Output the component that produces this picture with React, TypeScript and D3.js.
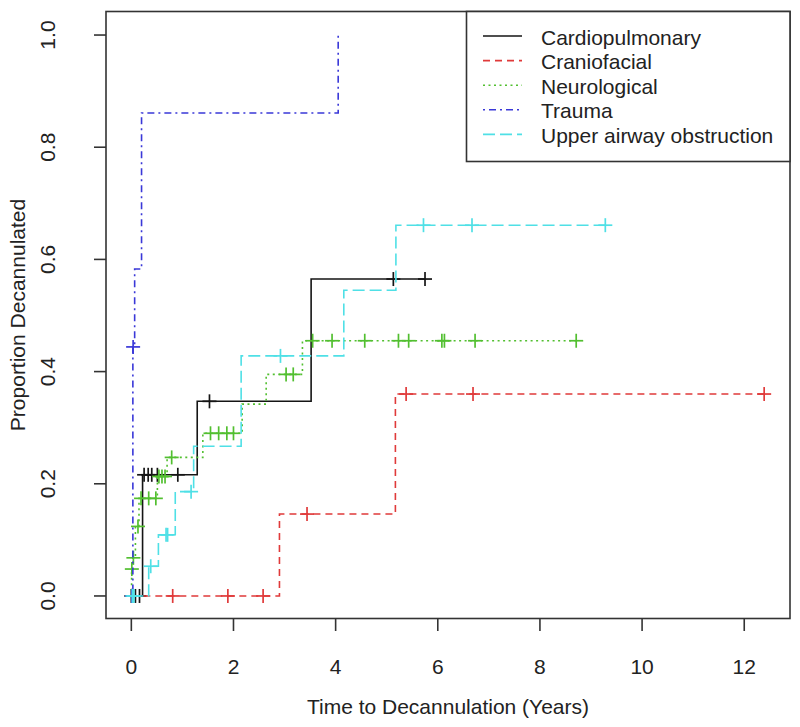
import React from "react";
import * as d3 from "d3";

// ---------- data ----------
const seriesNames = ["Cardiopulmonary", "Craniofacial", "Neurological", "Trauma", "Upper airway obstruction"];

const cardioEventTimes = [0.22, 1.29, 3.52];
const cardioEventValues = [0.216, 0.347, 0.565];
const cardioCensorTimes = [0.0, 0.08, 0.16, 0.25, 0.33, 0.4, 0.51, 0.91, 1.53, 5.13, 5.75];

const cranioEventTimes = [2.9, 5.17];
const cranioEventValues = [0.146, 0.36];
const cranioCensorTimes = [0.81, 1.89, 2.58, 3.44, 5.38, 6.69, 12.39];

const neuroEventTimes = [0.005, 0.03, 0.08, 0.15, 0.51, 0.7, 1.4, 2.17, 2.64, 3.35];
const neuroEventValues = [0.048, 0.068, 0.124, 0.174, 0.213, 0.247, 0.29, 0.342, 0.395, 0.455];
const neuroCensorTimes = [0.01, 0.04, 0.13, 0.19, 0.34, 0.48, 0.54, 0.6, 0.66, 0.79, 1.55, 1.71, 1.87, 2.0, 3.03, 3.17, 3.55, 3.93, 4.57, 5.23, 5.43, 6.08, 6.13, 6.73, 8.71];

const traumaEventTimes = [0.03, 0.065, 0.2, 4.05];
const traumaEventValues = [0.444, 0.583, 0.861, 1.0];
const traumaCensorTimes = [0.01, 0.035];

const airwayEventTimes = [0.34, 0.53, 0.86, 1.22, 2.15, 4.16, 5.18];
const airwayEventValues = [0.053, 0.109, 0.186, 0.267, 0.428, 0.545, 0.661];
const airwayCensorTimes = [0.02, 0.05, 0.38, 0.68, 0.71, 1.17, 2.92, 5.72, 6.67, 9.28];

const xTicks = [0, 2, 4, 6, 8, 10, 12];
const yTicks = [0, 0.2, 0.4, 0.6, 0.8, 1.0];
const yTickLabels = ["0.0", "0.2", "0.4", "0.6", "0.8", "1.0"];

const colors = ["#151515", "#e03a3a", "#52bf30", "#3a38d8", "#4fe0e6"];
const dashes = ["none", "7,5", "2,3.5", "2,4,7,4", "12,5"];

const series = [
  { e: cardioEventTimes, v: cardioEventValues, c: cardioCensorTimes },
  { e: cranioEventTimes, v: cranioEventValues, c: cranioCensorTimes },
  { e: neuroEventTimes, v: neuroEventValues, c: neuroCensorTimes },
  { e: traumaEventTimes, v: traumaEventValues, c: traumaCensorTimes },
  { e: airwayEventTimes, v: airwayEventValues, c: airwayCensorTimes },
];

const FONT = "'Liberation Sans', Arial, sans-serif";

export default function App() {
  const W = 800, H = 727;
  const x = d3.scaleLinear().domain([-0.496, 12.896]).range([106, 790]);
  const y = d3.scaleLinear().domain([-0.04, 1.04]).range([618.4, 12.6]);

  const valueAt = (s: { e: number[]; v: number[] }, t: number) => {
    let val = 0;
    s.e.forEach((et, i) => {
      if (et <= t) val = s.v[i];
    });
    return val;
  };

  const line = d3.line<[number, number]>().x((d) => x(d[0])).y((d) => y(d[1])).curve(d3.curveStepAfter);

  const paths = series.map((s) => {
    const end = Math.max(...s.e, ...s.c);
    const pts: [number, number][] = [[0, 0]];
    s.e.forEach((t, i) => pts.push([t, s.v[i]]));
    pts.push([end, s.v[s.v.length - 1]]);
    return line(pts) as string;
  });

  const legendY0 = 36;
  const legendDy = 24.6;

  return (
    <svg width={W} height={H} style={{ position: "absolute", left: 0, top: 0, background: "#fff" }} fontFamily={FONT}>
      <rect x={0} y={0} width={W} height={H} fill="#fff" />
      {/* curves */}
      {series.map((s, i) => (
        <g key={i}>
          <path d={paths[i]} fill="none" stroke={colors[i]} strokeWidth={1.6} strokeDasharray={dashes[i]} />
          {s.c.map((t, j) => {
            const cx = x(t), cy = y(valueAt(s, t));
            return (
              <g key={j} stroke={colors[i]} strokeWidth={1.7}>
                <line x1={cx - 7} x2={cx + 7} y1={cy} y2={cy} />
                <line x1={cx} x2={cx} y1={cy - 7} y2={cy + 7} />
              </g>
            );
          })}
        </g>
      ))}
      {/* box */}
      <rect x={106} y={11.5} width={684} height={607} fill="none" stroke="#333" strokeWidth={1.6} />
      {/* x axis */}
      {xTicks.map((t) => (
        <g key={t}>
          <line x1={x(t)} x2={x(t)} y1={618.4} y2={631} stroke="#333" strokeWidth={1.6} />
          <text x={x(t)} y={666} textAnchor="middle" dominantBaseline="central" fontSize={21} fill="#222">
            {t}
          </text>
        </g>
      ))}
      {/* y axis */}
      {yTicks.map((t, i) => (
        <g key={t}>
          <line x1={94} x2={106} y1={y(t)} y2={y(t)} stroke="#333" strokeWidth={1.6} />
          <text
            transform={`translate(47,${y(t)}) rotate(-90)`}
            textAnchor="middle"
            dominantBaseline="central"
            fontSize={21}
            fill="#222"
          >
            {yTickLabels[i]}
          </text>
        </g>
      ))}
      <text x={448} y={706} textAnchor="middle" dominantBaseline="central" fontSize={21} fill="#222">
        Time to Decannulation (Years)
      </text>
      <text
        transform={`translate(17,315) rotate(-90)`}
        textAnchor="middle"
        dominantBaseline="central"
        fontSize={21}
        fill="#222"
      >
        Proportion Decannulated
      </text>
      {/* legend */}
      <rect x={466.5} y={11.5} width={323.5} height={150} fill="#fff" stroke="#333" strokeWidth={1.6} />
      {seriesNames.map((n, i) => (
        <g key={n}>
          <line
            x1={483}
            x2={522}
            y1={legendY0 + i * legendDy}
            y2={legendY0 + i * legendDy}
            stroke={colors[i]}
            strokeWidth={1.6}
            strokeDasharray={dashes[i]}
          />
          <text x={541} y={legendY0 + i * legendDy + 1} dominantBaseline="central" fontSize={21} fill="#222">
            {n}
          </text>
        </g>
      ))}
    </svg>
  );
}
